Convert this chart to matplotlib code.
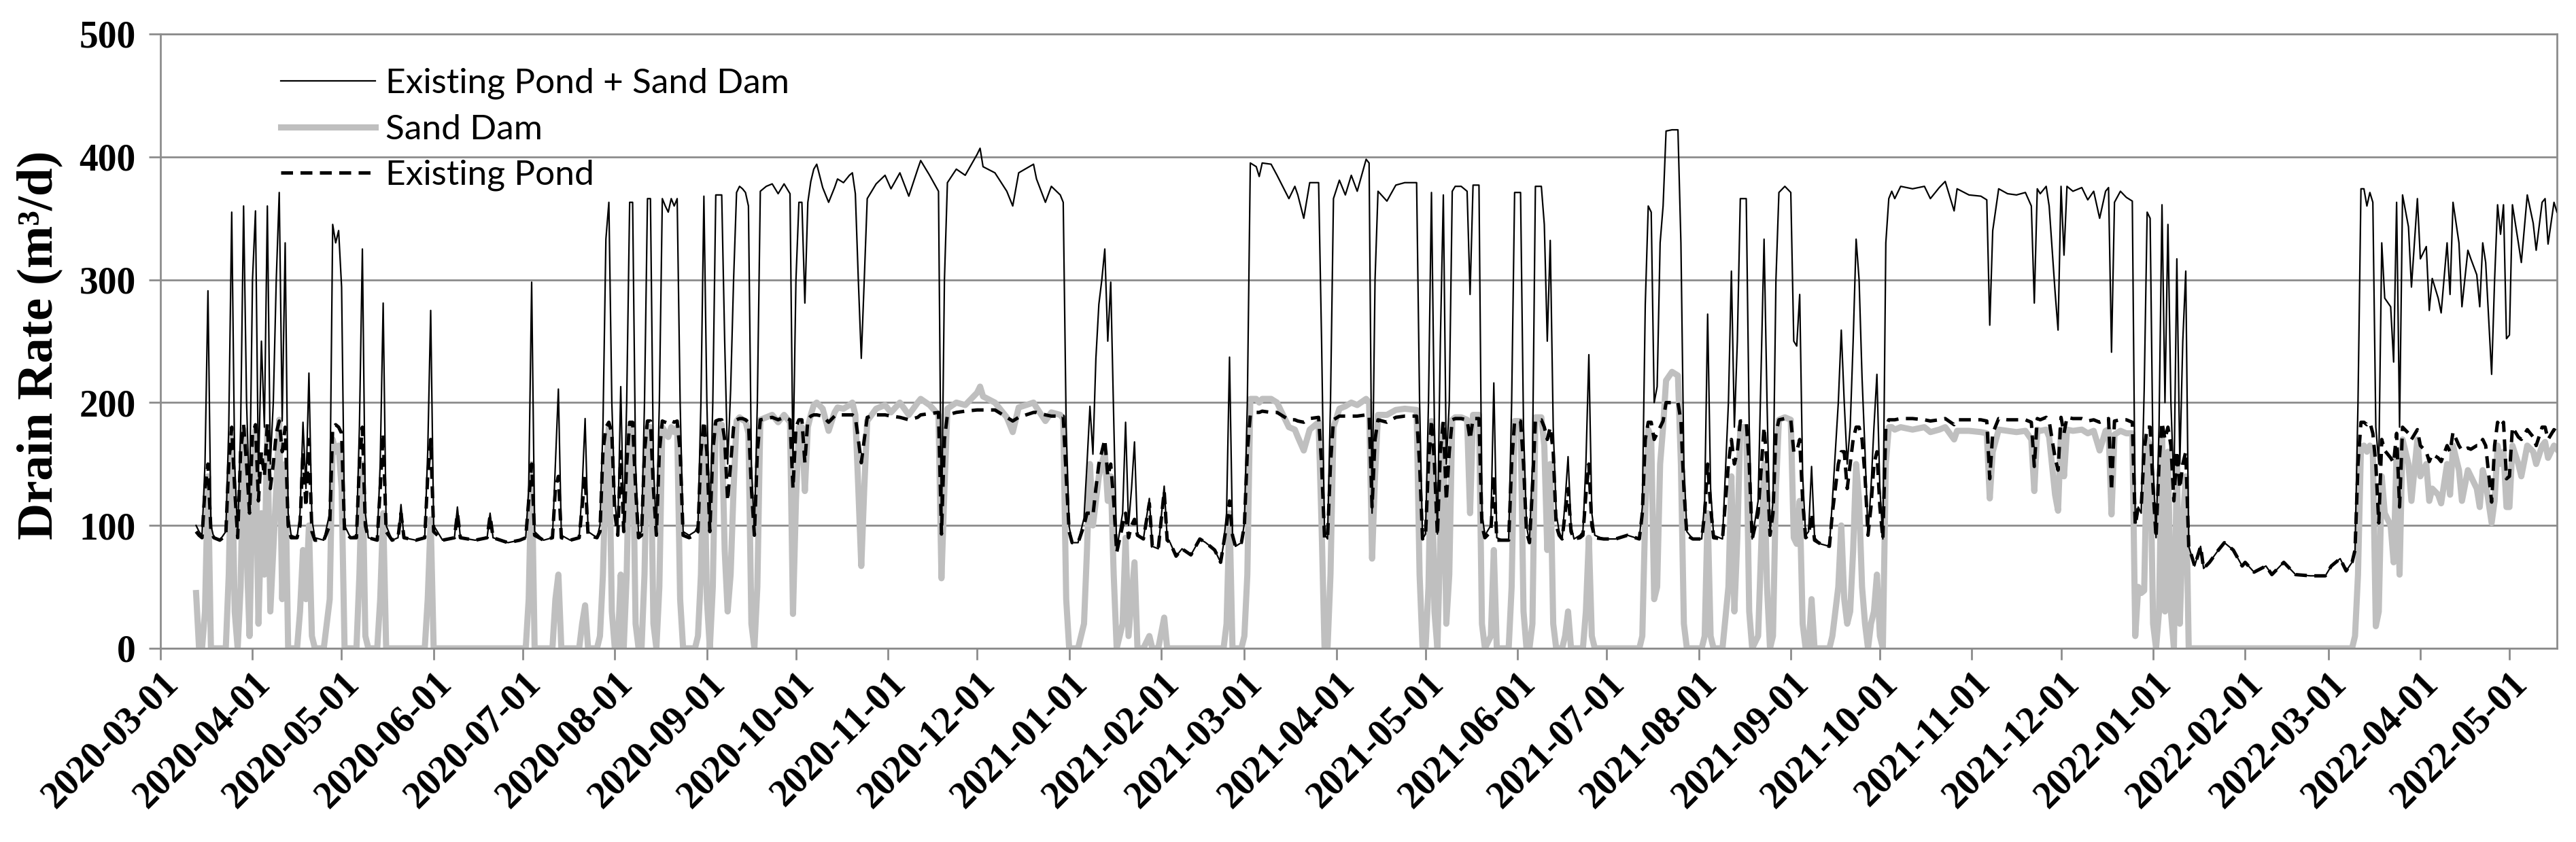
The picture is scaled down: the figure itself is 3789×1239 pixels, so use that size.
import numpy as np
import pandas as pd
import matplotlib
matplotlib.use('Agg')
import matplotlib.pyplot as plt
import matplotlib.dates as mdates

# days counted from 2020-03-01 (m3/d)
day = [
    # Mar - Jun 2020
    12, 13, 14, 15, 16, 17, 18, 20, 22, 23,
    24, 25, 26, 27, 28, 29, 30, 31, 32, 33,
    34, 35, 36, 37, 38, 39, 40, 41, 42, 43,
    44, 46, 47, 48, 49, 50, 51, 52, 55, 57,
    58, 59, 60, 61, 62, 64, 66, 67, 68, 69,
    70, 73, 74, 75, 76, 78, 80, 81, 82, 86,
    89, 90, 91, 92, 95, 99, 100, 101, 106, 110,
    111, 112, 117, 121,
    # Jul - Sep 2020
    123, 124, 125, 126, 129, 132, 133, 134, 135, 138,
    141, 142, 143, 144, 147, 148, 149, 150, 151, 152,
    153, 154, 155, 156, 157, 158, 159, 160, 161, 162,
    163, 164, 165, 166, 167, 168, 169, 170, 171, 172,
    173, 174, 175, 176, 178, 180, 181, 182, 183, 184,
    185, 186, 187, 188, 189, 190, 191, 192, 193, 194,
    195, 196, 197, 198, 199, 200, 201, 202, 204, 206,
    208, 210, 212, 213, 214, 215, 216, 217, 218, 219,
    220,
    # Oct - Dec 2020
    221, 223, 225, 227, 228, 230, 232, 233, 234, 235,
    236, 237, 238, 241, 244, 246, 249, 252, 255, 256,
    259, 262, 263, 264, 265, 268, 271, 275, 276, 277,
    281, 285, 287, 289, 294, 295, 298, 300, 303, 304,
    305, 306,
    # Jan - Feb 2021
    307, 309, 311, 312, 313, 314, 315, 316, 317, 318,
    319, 320, 321, 322, 324, 325, 326, 327, 328, 329,
    331, 333, 334, 336, 338, 339, 340, 342, 344, 347,
    350, 352, 355, 357, 358, 359, 360, 361, 362, 364,
    365, 366,
    # Mar - Apr 2021
    367, 369, 370, 371, 374, 376, 380, 382, 383, 385,
    387, 390, 391, 392, 393, 394, 395, 397, 399, 401,
    403, 406, 407, 408, 409, 410, 413, 416, 419, 423,
    424, 425, 426, 427, 428, 429, 430, 431, 432, 433,
    434, 435,
    # May - Sep 2021
    436, 438, 440, 441, 442, 444, 445, 446, 448, 449,
    450, 452, 454, 455, 456, 458, 459, 460, 461, 462,
    463, 465, 466, 467, 468, 469, 470, 471, 472, 473,
    474, 475, 476, 478, 479, 480, 481, 482, 483, 486,
    490, 494, 498, 499, 500, 501, 502, 503, 504, 505,
    506, 507, 509, 511, 512, 513, 514, 516, 519, 520,
    521, 522, 523, 526, 528, 529, 530, 531, 532, 534,
    535, 536, 538, 540, 541, 542, 543, 544, 545, 547,
    549, 550, 551, 552, 553, 554, 555, 556, 557, 559,
    562, 563, 565, 566, 567, 568, 569, 570, 571, 572,
    573, 574, 575, 576, 577, 578, 579, 580, 581, 582,
    # Oct - Dec 2021
    583, 584, 586, 590, 594, 596, 599, 601, 604, 605,
    609, 613, 615, 616, 617, 619, 622, 625, 628, 630,
    631, 632, 633, 635, 636, 638, 639, 640, 641, 642,
    644, 647, 649, 651, 653, 655, 656, 657, 658, 660,
    662, 664,
    # Jan - early Mar 2022
    665, 666, 667, 668, 669, 670, 671, 672, 673, 674,
    675, 676, 677, 678, 679, 680, 681, 682, 683, 684,
    685, 687, 688, 690, 693, 695, 698, 701, 702, 705,
    709, 711, 715, 719, 724, 729, 731, 734, 736, 738,
    739, 740,
    # Mar - May 2022
    741, 742, 743, 744, 745, 746, 747, 748, 749, 751,
    752, 753, 754, 755, 757, 758, 760, 761, 763, 764,
    765, 767, 768, 770, 771, 772, 774, 775, 777, 778,
    780, 781, 782, 783, 785, 786, 787, 788, 789, 790,
    791, 792, 794, 795, 797, 799, 800, 802, 803, 804,
    806, 807,
]

combined = [
    100, 95, 92, 150, 291, 100, 90, 88, 95, 180,
    355, 150, 92, 180, 360, 200, 120, 300, 356, 140,
    250, 180, 360, 150, 200, 300, 371, 185, 330, 110,
    92, 90, 110, 184, 130, 224, 105, 90, 88, 110,
    345, 330, 340, 294, 100, 90, 92, 180, 325, 110,
    90, 88, 150, 281, 100, 88, 90, 117, 90, 88,
    90, 160, 275, 100, 88, 90, 115, 90, 88, 90,
    110, 90, 86, 88,
    90, 130, 298, 95, 88, 90, 150, 211, 92, 88,
    90, 130, 187, 95, 90, 100, 180, 333, 363, 200,
    120, 95, 213, 100, 200, 363, 363, 150, 92, 95,
    200, 366, 366, 150, 95, 200, 366, 360, 355, 366,
    360, 366, 200, 95, 92, 95, 100, 200, 368, 200,
    100, 200, 369, 369, 369, 250, 150, 210, 300, 371,
    376, 374, 371, 360, 150, 95, 200, 372, 376, 378,
    370, 378, 370, 150, 300, 363, 363, 281, 363, 380,
    390,
    394, 375, 363, 375, 382, 379, 385, 387, 370, 300,
    236, 300, 366, 378, 385, 374, 387, 368, 390, 397,
    385, 372, 95, 300, 379, 390, 385, 402, 407, 392,
    387, 372, 360, 387, 394, 382, 363, 376, 369, 363,
    180, 99,
    86, 86, 106, 150, 197, 158, 236, 280, 300, 325,
    250, 298, 187, 80, 110, 184, 100, 130, 168, 93,
    89, 122, 83, 81, 132, 90, 86, 75, 81, 76,
    89, 86, 80, 70, 85, 110, 237, 93, 83, 86,
    102, 200,
    395, 392, 384, 395, 394, 385, 366, 376, 369, 350,
    379, 379, 250, 93, 89, 200, 366, 381, 369, 385,
    372, 398, 395, 110, 300, 372, 364, 377, 379, 379,
    200, 89, 93, 200, 371, 180, 93, 250, 369, 150,
    200, 372,
    376, 376, 372, 288, 377, 377, 110, 92, 100, 216,
    90, 88, 88, 200, 371, 371, 180, 100, 86, 150,
    376, 376, 345, 250, 332, 180, 110, 95, 89, 120,
    156, 100, 89, 92, 95, 150, 239, 110, 92, 89,
    89, 92, 89, 115, 280, 360, 355, 200, 213, 330,
    360, 421, 422, 422, 330, 150, 95, 89, 89, 120,
    272, 130, 92, 89, 200, 307, 180, 250, 366, 366,
    180, 89, 120, 333, 200, 93, 120, 300, 371, 376,
    371, 250, 246, 288, 140, 92, 95, 148, 90, 85,
    83, 120, 200, 259, 200, 150, 180, 250, 333, 300,
    220, 160, 93, 130, 180, 223, 130, 89, 330, 366,
    372, 366, 376, 374, 376, 366, 375, 380, 356, 374,
    369, 368, 365, 263, 340, 374, 370, 369, 371, 360,
    281, 374, 370, 376, 360, 290, 259, 376, 320, 376,
    372, 375, 365, 372, 350, 372, 375, 241, 363, 372,
    367, 364,
    102, 115, 110, 210, 355, 350, 150, 90, 180, 361,
    200, 345, 200, 130, 317, 150, 250, 307, 83, 75,
    67, 83, 65, 70, 80, 86, 80, 67, 70, 62,
    67, 60, 70, 60, 59, 59, 67, 73, 63, 70,
    80, 200,
    374, 374, 360, 371, 363, 180, 150, 330, 285, 278,
    233, 363, 180, 369, 343, 294, 366, 317, 327, 275,
    301, 285, 273, 330, 288, 363, 330, 278, 324, 317,
    304, 278, 330, 314, 223, 300, 361, 337, 361, 252,
    255, 361, 330, 314, 369, 346, 324, 363, 366, 329,
    363, 355,
]

pond = [
    95, 92, 90, 130, 150, 95, 90, 88, 92, 150,
    180, 130, 90, 160, 182, 150, 110, 175, 182, 120,
    160, 140, 183, 130, 150, 175, 185, 160, 180, 100,
    90, 90, 100, 160, 115, 170, 95, 88, 88, 100,
    180, 182, 180, 175, 95, 90, 90, 150, 180, 100,
    90, 88, 130, 175, 95, 88, 90, 110, 90, 88,
    90, 140, 170, 95, 88, 90, 110, 90, 88, 90,
    108, 90, 86, 88,
    90, 120, 150, 92, 88, 90, 130, 140, 90, 88,
    90, 115, 140, 92, 90, 95, 160, 180, 184, 175,
    110, 92, 160, 95, 150, 184, 184, 130, 90, 92,
    160, 185, 185, 130, 92, 160, 185, 184, 183, 185,
    184, 185, 160, 92, 90, 92, 95, 160, 185, 160,
    95, 160, 185, 186, 186, 170, 120, 150, 180, 186,
    187, 187, 186, 184, 130, 92, 160, 186, 187, 188,
    186, 188, 186, 130, 180, 186, 186, 151, 186, 189,
    190,
    190, 189, 184, 189, 190, 190, 190, 190, 188, 170,
    151, 170, 188, 190, 190, 189, 188, 186, 188, 190,
    191, 192, 93, 170, 190, 192, 193, 194, 194, 194,
    194, 188, 185, 188, 192, 192, 190, 189, 189, 189,
    140, 95,
    86, 86, 100, 110, 110, 108, 130, 150, 160, 170,
    140, 150, 120, 78, 100, 110, 90, 100, 105, 92,
    89, 118, 83, 81, 128, 88, 86, 75, 81, 76,
    89, 86, 80, 70, 85, 100, 120, 92, 83, 86,
    100, 160,
    190, 192, 192, 193, 192, 192, 186, 186, 185, 184,
    187, 188, 150, 90, 89, 150, 186, 189, 189, 189,
    189, 190, 190, 115, 170, 186, 184, 188, 189, 189,
    150, 89, 92, 150, 186, 150, 92, 160, 185, 120,
    160, 186,
    187, 187, 186, 170, 187, 187, 100, 90, 95, 140,
    88, 88, 88, 150, 185, 185, 150, 95, 86, 130,
    186, 186, 180, 170, 180, 160, 100, 92, 89, 110,
    130, 95, 89, 90, 92, 125, 150, 100, 90, 89,
    89, 92, 89, 110, 170, 184, 184, 170, 175, 180,
    185, 200, 200, 200, 185, 130, 92, 89, 89, 110,
    150, 115, 90, 89, 150, 170, 150, 160, 185, 185,
    150, 89, 110, 180, 150, 92, 110, 175, 186, 187,
    186, 160, 160, 170, 120, 90, 92, 110, 88, 85,
    83, 110, 150, 160, 160, 130, 150, 170, 180, 180,
    170, 140, 92, 115, 150, 160, 115, 89, 180, 186,
    186, 186, 187, 187, 186, 185, 186, 187, 182, 186,
    186, 186, 185, 138, 175, 187, 186, 186, 186, 184,
    148, 187, 186, 188, 185, 155, 145, 188, 175, 188,
    187, 187, 185, 186, 184, 186, 187, 128, 185, 186,
    186, 184,
    100, 115, 115, 161, 180, 180, 130, 90, 150, 184,
    170, 180, 165, 120, 161, 130, 150, 160, 83, 75,
    67, 83, 65, 70, 80, 86, 80, 67, 70, 62,
    67, 60, 70, 60, 59, 59, 67, 73, 63, 70,
    80, 150,
    184, 184, 182, 184, 175, 150, 102, 170, 161, 155,
    151, 175, 115, 180, 175, 170, 178, 165, 160, 152,
    158, 155, 152, 165, 160, 176, 165, 161, 163, 162,
    165, 165, 170, 165, 119, 165, 184, 180, 184, 138,
    140, 180, 172, 170, 178, 172, 165, 180, 180, 170,
    178, 176,
]

sand = [
    45, 0, 0, 30, 140, 0, 0, 0, 0, 60,
    175, 30, 0, 50, 178, 80, 10, 130, 178, 20,
    110, 60, 180, 30, 80, 130, 186, 40, 150, 0,
    0, 0, 30, 80, 40, 100, 10, 0, 0, 40,
    170, 160, 165, 130, 0, 0, 0, 60, 150, 10,
    0, 0, 40, 110, 0, 0, 0, 0, 0, 0,
    0, 40, 105, 0, 0, 0, 0, 0, 0, 0,
    0, 0, 0, 0,
    0, 40, 150, 0, 0, 0, 40, 60, 0, 0,
    0, 20, 35, 0, 0, 10, 60, 150, 180, 30,
    0, 0, 60, 0, 60, 180, 180, 20, 0, 0,
    60, 180, 180, 20, 0, 50, 180, 176, 172, 180,
    176, 180, 40, 0, 0, 0, 10, 60, 180, 40,
    0, 50, 182, 182, 182, 80, 30, 60, 130, 185,
    188, 186, 185, 175, 20, 0, 50, 186, 188, 190,
    184, 190, 184, 28, 120, 180, 180, 128, 180, 190,
    198,
    200, 195, 177, 192, 196, 195, 198, 200, 190, 130,
    67, 130, 185, 195, 198, 192, 200, 190, 200, 203,
    198, 190, 57, 130, 195, 200, 198, 208, 213, 205,
    200, 188, 176, 196, 200, 196, 185, 192, 190, 187,
    40, 0,
    0, 0, 20, 80, 150, 100, 120, 140, 150, 160,
    120, 140, 60, 0, 20, 90, 10, 40, 70, 0,
    0, 10, 0, 0, 25, 0, 0, 0, 0, 0,
    0, 0, 0, 0, 0, 20, 110, 0, 0, 0,
    10, 60,
    203, 203, 200, 203, 203, 200, 180, 178, 172, 161,
    178, 184, 100, 0, 0, 60, 180, 195, 197, 200,
    198, 203, 200, 73, 140, 190, 190, 194, 195, 194,
    60, 0, 0, 50, 185, 30, 0, 90, 182, 20,
    60, 186,
    188, 188, 186, 110, 190, 190, 20, 0, 10, 80,
    0, 0, 0, 50, 185, 185, 30, 0, 0, 20,
    188, 188, 165, 80, 150, 20, 0, 0, 0, 10,
    30, 0, 0, 0, 0, 30, 90, 10, 0, 0,
    0, 0, 0, 10, 110, 178, 172, 40, 50, 150,
    180, 218, 225, 222, 150, 20, 0, 0, 0, 10,
    110, 10, 0, 0, 50, 140, 30, 90, 180, 180,
    30, 0, 10, 150, 50, 0, 10, 130, 186, 188,
    186, 90, 85, 120, 20, 0, 0, 40, 0, 0,
    0, 10, 50, 100, 40, 20, 30, 80, 150, 120,
    50, 20, 0, 20, 30, 60, 10, 0, 150, 180,
    180, 178, 180, 178, 180, 176, 178, 180, 170, 177,
    177, 176, 175, 122, 160, 178, 177, 176, 177, 170,
    128, 178, 177, 178, 172, 125, 112, 178, 140, 178,
    177, 178, 175, 177, 161, 177, 178, 109, 174, 177,
    175, 175,
    10, 50, 45, 47, 170, 165, 20, 0, 30, 175,
    30, 160, 30, 0, 150, 20, 100, 140, 0, 0,
    0, 0, 0, 0, 0, 0, 0, 0, 0, 0,
    0, 0, 0, 0, 0, 0, 0, 0, 0, 0,
    10, 60,
    164, 165, 160, 165, 160, 18, 30, 140, 110, 100,
    70, 160, 60, 170, 150, 120, 170, 140, 150, 120,
    130, 125, 118, 150, 125, 165, 145, 120, 145, 140,
    130, 115, 145, 135, 102, 120, 165, 150, 160, 115,
    115, 165, 150, 140, 165, 160, 150, 165, 168, 155,
    165, 162,
]

assert len(day) == len(combined) == len(pond) == len(sand)

start = pd.Timestamp('2020-03-01')
dates = start + pd.to_timedelta(np.array(day), unit='D')

serif = 'Liberation Serif'
grid_col = '#8c8c8c'

fig = plt.figure(figsize=(37.89, 12.39), dpi=100)
ax = fig.add_axes([236 / 3789, 1 - 954 / 1239, (3761 - 236) / 3789, (954 - 50) / 1239])

ax.plot(dates, combined, color='black', lw=1.6, zorder=3, label='Existing Pond + Sand Dam')
ax.plot(dates, sand, color='#bfbfbf', lw=6.5, zorder=2, label='Sand Dam')
ax.plot(dates, pond, color='black', lw=3.6, ls=(0, (3.5, 2.2)), zorder=4, label='Existing Pond')

ax.set_xlim(start, start + pd.Timedelta(days=807))
ax.set_ylim(0, 500)
ax.set_yticks(np.arange(0, 501, 100))
ax.yaxis.grid(True, color=grid_col, lw=2)
ax.set_axisbelow(True)

ax.xaxis.set_major_locator(mdates.MonthLocator())
ax.xaxis.set_major_formatter(mdates.DateFormatter('%Y-%m-%d'))

for sp in ax.spines.values():
    sp.set_color(grid_col)
    sp.set_linewidth(2)

ax.tick_params(axis='both', direction='out', length=12, width=2, color=grid_col)
ax.tick_params(axis='y', pad=14)
ax.tick_params(axis='x', pad=6)
for lab in ax.get_xticklabels():
    lab.set_rotation(45)
    lab.set_ha('right')
    lab.set_rotation_mode('anchor')
    lab.set_fontfamily(serif)
    lab.set_fontweight('bold')
    lab.set_fontsize(40)
for lab in ax.get_yticklabels():
    lab.set_fontfamily(serif)
    lab.set_fontweight('bold')
    lab.set_fontsize(40)

fig.text(58 / 3789, 1 - 508 / 1239, 'Drain Rate (m³/d)', rotation=90, ha='center', va='center',
         fontfamily=serif, fontweight='bold', fontsize=54)

ax.legend(loc='upper left', bbox_to_anchor=(413 / 3789, 1 - 100 / 1239), bbox_transform=fig.transFigure,
          frameon=False, prop={'family': 'Lato', 'size': 37}, handlelength=2.7, handletextpad=0.3,
          labelspacing=0.41, borderpad=0, borderaxespad=0)

fig.savefig('out.png', dpi=100)
